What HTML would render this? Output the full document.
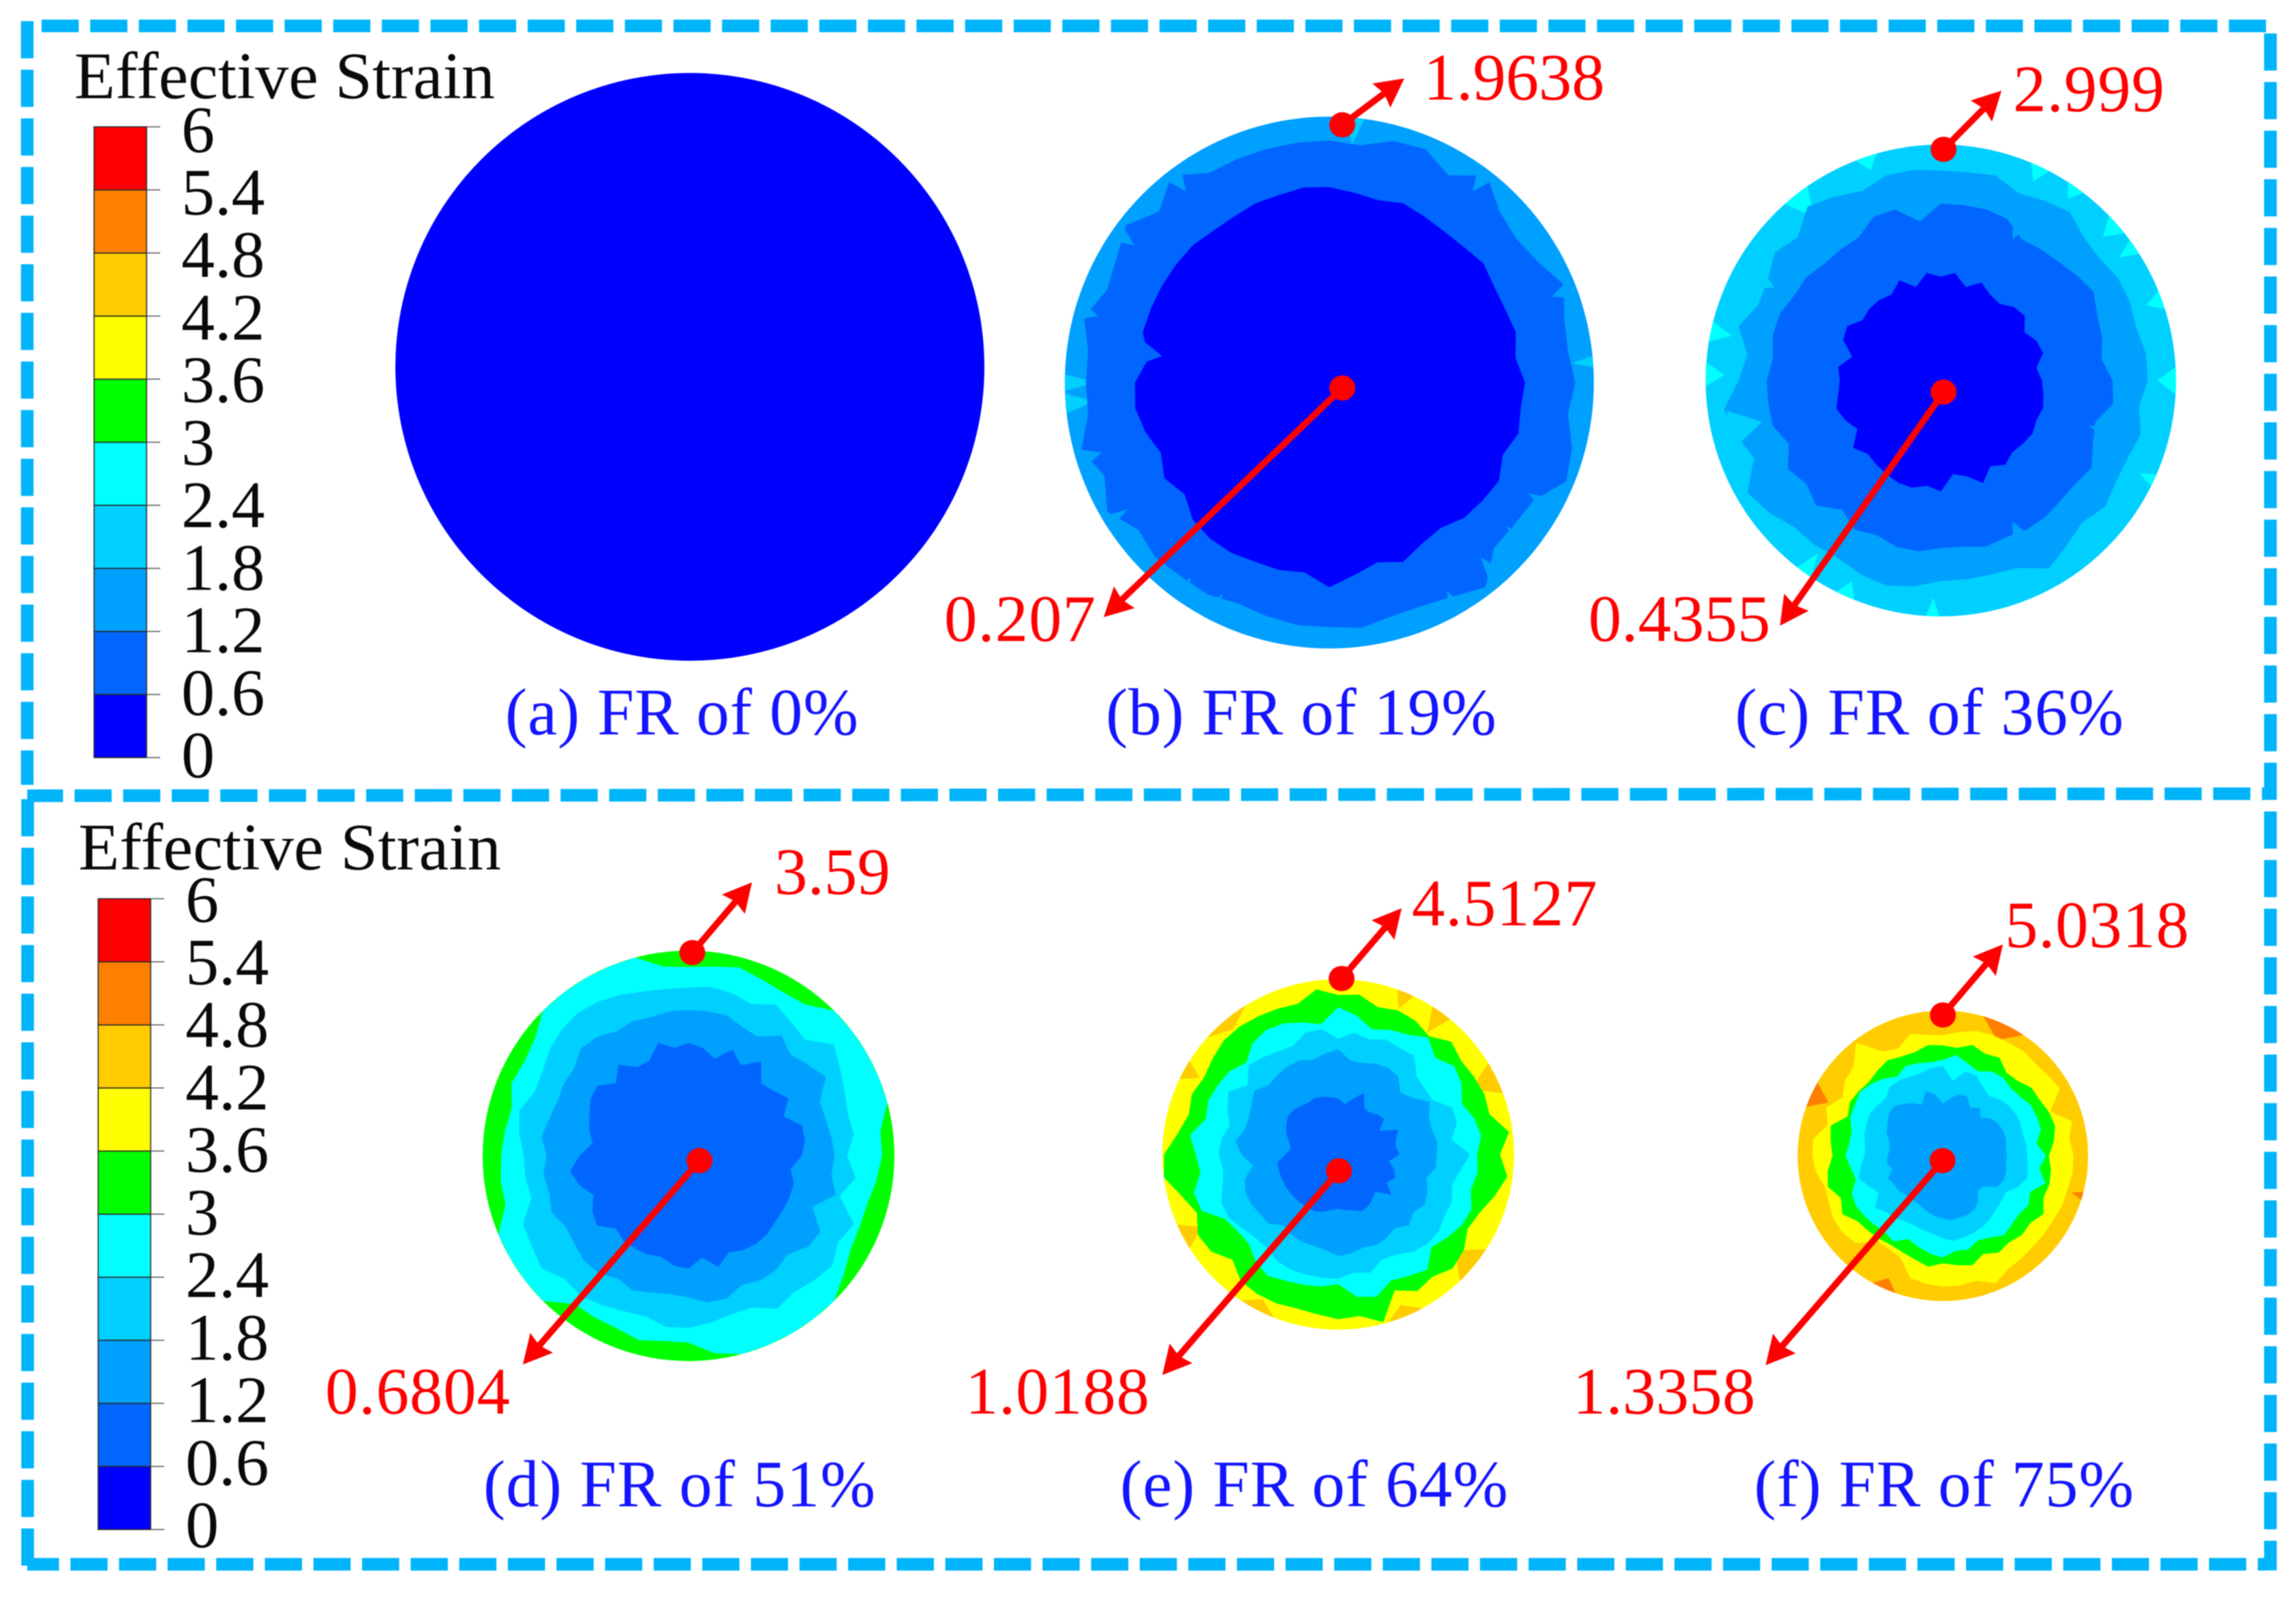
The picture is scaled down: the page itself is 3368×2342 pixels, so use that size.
<!DOCTYPE html>
<html lang="en">
<head>
<meta charset="utf-8">
<title>Effective strain contours by fraction reduction</title>
<style>
html,body{margin:0;padding:0;background:#fff;}
svg{display:block;filter:blur(0.7px);}
text{font-family:"Liberation Serif","Times New Roman",serif;}
.blk{fill:#0a0a0a;font-size:97px;}
.cap{fill:#1414ff;font-size:97px;}
</style>
</head>
<body>
<svg id="figure" xmlns="http://www.w3.org/2000/svg" width="3368" height="2342" viewBox="0 0 3368 2342">
  <rect x="0" y="0" width="3368" height="2342" fill="#ffffff"/>
  <g id="borders" fill="none" stroke="#00b4fa" stroke-width="18.5" stroke-dasharray="54.5 16.8">
    <line x1="3324" y1="38" x2="60" y2="38"/>
    <line x1="40" y1="31" x2="40" y2="1151"/>
    <line x1="3330.5" y1="49" x2="3330.5" y2="1173"/>
    <line x1="3301" y1="1164" x2="40" y2="1167"/>
    <line x1="40.5" y1="1172" x2="40.5" y2="2303"/>
    <line x1="3330.5" y1="1190" x2="3330.5" y2="2303"/>
    <line x1="3295" y1="2294" x2="40" y2="2294"/>
    <line x1="3318" y1="1164" x2="3324" y2="1164"/>
    <line x1="3312" y1="2294" x2="3324" y2="2294"/>
  </g>
  <g id="colorbars"></g>
  <g id="discs"></g>
  <g id="callouts"></g>
  <text class="blk" x="109" y="144" textLength="617" lengthAdjust="spacingAndGlyphs">Effective Strain</text>
  <text class="blk" x="115" y="1275" textLength="620" lengthAdjust="spacingAndGlyphs">Effective Strain</text>
  <text class="cap" x="741" y="1077" textLength="518">(a) FR of 0%</text>
  <text class="cap" x="1622" y="1077" textLength="573">(b) FR of 19%</text>
  <text class="cap" x="2545" y="1077" textLength="570">(c) FR of 36%</text>
  <text class="cap" x="709" y="2209" textLength="575">(d) FR of 51%</text>
  <text class="cap" x="1643" y="2209" textLength="569">(e) FR of 64%</text>
  <text class="cap" x="2573" y="2209" textLength="557">(f) FR of 75%</text>
</svg>
<script>
/* colour scale */
const strainLevels = [0, 0.6, 1.2, 1.8, 2.4, 3, 3.6, 4.2, 4.8, 5.4, 6];
const tickLabels = ["0", "0.6", "1.2", "1.8", "2.4", "3", "3.6", "4.2", "4.8", "5.4", "6"];
const bandPalette = ["#0000ff", "#0066ff", "#00a0ff", "#00d0ff", "#00ffff", "#00ff00", "#ffff00", "#ffcc00", "#ff8000", "#ff0000"];

/* printed extreme values, one per section (a has no callouts) */
const maxStrainLabels = [null, "1.9638", "2.999", "3.59", "4.5127", "5.0318"];
const minStrainLabels = [null, "0.207", "0.4355", "0.6804", "1.0188", "1.3358"];

/* Contour radius as % of disc radius, sampled every 7.5 deg clockwise from the top */
const ringB12 = [91,90,94,95,90,98,91,89,91,96,92,91,93,91,95,97,89,88,88,97,93,91,91,93,92,92,91,90,92,92,93,91,97,92,97,92,92,92,96,91,93,97,91,98,91,91,91,91];
const ringB06 = [73.5,72,71,73,72,71.5,72,73.5,72,72,73,71,74,73,74,71,74,73,72,69,70,73,70,73,77,72,73,73,74,74,73,69,72,69,72,74,73.5,69,73,73,73,73,73,72,72,73,73,74];

const ringC18 = [89,89,90,86,88,90,86,85,87,87,86,88,88,85,88,86,86,88,85,88,92,86,85,85,85,88,90,89,87,88,88,92,95,86,90,93,86,83,89,84,85,89,86,93,90,87,90,90];
const ringC12 = [75,75,75,74,69,70,71,73,75,72,71,69,73,74,68,70,74,72,72,73,73,72,73,71,71,73,73,71,73,69,75,72,75,70,74,74,74,72,74,74,72,72,70,70,70,75,75,68];
const ringC06 = [44,46,41,45,42,41,44,45,41,44,45,41,43,44,45,44,45,44,43,45,42,47,42,40,47,45,47,47,46,45,44,47,41,44,46,44,43,44,39,45,46,42,43,43,42,46,41,46];

const ringD30 = [92,93,95,93,92,93,100,100,100,100,100,94,94,92,90,90,91,95,100,100,100,100,100,97,91,91,93,91,91,91,100,100,100,100,92,92,91,90,89,93,92,94,100,100,100,100,100,93];
const ringD24 = [82,83,82,80,85,82,80,89,85,82,80,81,77,82,76,87,84,88,86,84,86,80,80,82,84,84,81,82,84,86,85,90,88,87,79,80,80,83,85,81,82,85,87,88,87,85,83,82];
const ringD18 = [71,71,71,68,67,74,70,73,77,69,69,70,71,70,74,65,74,73,68,70,70,68,72,72,69,68,69,71,69,72,72,70,69,72,70,71,69,72,70,69,70,70,74,73,70,71,70,71];
const ringD12 = [55,53,49,56,51,58,50,52,56,50,57,57,55,50,53,53,53,53,54,54,53,51,56,50,55,54,51,52,52,52,50,56,54,50,55,58,53,47,50,52,55,56,50,56,50,50,57,53];

const ringE36 = [91,92,87,89,88,85,91,88,89,90,89,98,92,97,92,87,85,90,92,88,90,84,99,93,94,92,91,92,92,91,85,91,92,87,92,100,99,92,88,90,88,90,92,92,91,90,89,95];
const ringE30 = [84,80,74,77,79,84,78,83,81,76,80,82,79,80,78,82,81,78,75,83,80,78,84,82,74,76,77,78,80,77,72,72,74,84,85,79,81,85,78,80,79,78,74,80,82,81,78,75];
const ringE24 = [66,70,68,71,70,71,63,62,62,70,70,65,75,70,67,70,70,72,72,70,66,65,70,68,71,71,71,71,70,67,67,69,72,72,68,66,68,67,64,68,72,65,72,70,68,67,72,72];
const ringE18 = [60,54,54,56,57,56,50,53,60,56,55,57,56,56,52,55,57,54,57,53,55,56,55,57,58,55,54,54,53,51,56,56,57,57,55,49,55,59,55,55,57,60,56,57,58,58,56,58];
const ringE12 = [32,29,33,38,30,30,32,33,27,37,34,33,35,29,33,35,32,38,30,32,34,35,33,32,31,32,34,35,35,35,35,35,35,35,35,35,30,27,29,32,34,36,36,35,34,35,34,33];

const ringF42 = [83,86,89,90,90,91,90,91,93,80,92,88,90,90,89,89,88,88,88,89,90,95,89,90,90,89,87,76,74,74,85,87,87,85,84,88,90,90,82,87,80,85,87,98,83,80,87,84];
const ringF36 = [76,75,79,76,78,72,73,77,77,79,80,77,73,75,76,75,80,76,77,75,77,73,78,76,74,77,74,72,71,72,73,74,80,76,82,80,76,78,80,71,74,73,72,74,76,74,74,77];
const ringF30 = [66,70,66,63,67,68,66,67,70,70,70,65,71,67,73,65,68,66,67,69,65,63,67,66,70,68,65,62,68,66,67,68,69,68,62,64,67,65,65,69,70,72,70,67,63,67,66,65];
const ringF24 = [62,52,60,60,55,52,55,57,58,58,57,58,58,59,60,56,50,51,52,54,56,57,58,59,57,54,53,52,52,54,55,59,51,55,60,57,54,54,56,57,58,57,56,60,60,59,59,61];
const ringF18 = [36,40,44,44,38,42,37,42,44,45,45,44,44,44,45,45,43,35,34,40,43,44,44,45,43,42,40,38,37,37,37,39,39,41,36,39,38,37,38,42,44,47,48,45,42,38,46,43];

/* Small rim facets under the contours: start angle, end angle, inner radius %, band index */
const facetsB = [[3,8,90,3],[263,268,89,3],[268,272,88,3],[84,87,92,3],[35,39,92,3]];
const facetsC = [[338,345,94,4],[22,28,93,4],[32,38,94,4],[45,52,92,4],[53,58,92,4],[67,73,93,4],[86,94,92,4],[113,117,93,4],[201,207,93,4],[213,218,90,4],[180,184,92,4],[279,285,91,4],[268,275,92,4],[318,326,88,4]];
const facetsE = [[32,40,86,7],[19,26,90,7],[58,70,84,7],[122,137,86,7],[150,165,93,7],[237,247,88,7],[200,215,93,7],[310,330,93,7],[295,303,90,7]];
const facetsF = [[15,35,88,8],[289,301,87,8],[198,210,92,8],[104,108,92,8]];

/* Narrow spikes over the contours: start angle, end angle, tip radius %, band index, base radius % */
const spikesB = [[116,122,86,2,102],[126,132,86,2,102],[136,142,87,2,102],[148,153,90,2,102],[205,209,89,2,102],[213,218,90,2,102],[236,240,90,2,102],[250,256,90,2,102],[283,289,91,2,102],[302,308,90,2,102],[320,326,90,2,102],[34,40,90,2,102],[66,72,90,2,102],[274,284,64,1,76]];
const spikesC = [[104,110,66,2,76],[150,156,67,2,76],[24,30,67,2,76],[252,262,78,3,92],[296,302,81,3,90]];

const SVGNS = "http://www.w3.org/2000/svg";

function el(parent, tag, attrs, txt) {
  const n = document.createElementNS(SVGNS, tag);
  for (const k in attrs) n.setAttribute(k, attrs[k]);
  if (txt !== undefined) n.textContent = txt;
  parent.appendChild(n);
  return n;
}

/* ---------- colour bars ---------- */
function drawColorbar(cfg) {
  const parent = document.getElementById("colorbars");
  const maxLevel = strainLevels[strainLevels.length - 1];
  const yScale = v => cfg.top + (maxLevel - v) / maxLevel * cfg.height;

  const bar = el(parent, "g", {});
  
  

  for (let i = 0; i < strainLevels.length - 1; i++) {
    const r = el(bar, "rect", {
      x: cfg.left, width: cfg.right - cfg.left,
      y: yScale(strainLevels[i + 1]),
      height: yScale(strainLevels[i]) - yScale(strainLevels[i + 1]),
      fill: bandPalette[i], stroke: "#2b2b2b", "stroke-width": 1.6
    });
    
    
  }
  strainLevels.forEach((v, i) => {
    const t = el(bar, "line", {
      x1: cfg.right, x2: cfg.tickEnd, y1: yScale(v), y2: yScale(v),
      stroke: "#555555", "stroke-width": 1.6
    });
    
    
    const l = el(bar, "text", {
      x: cfg.labelX, y: yScale(v) + cfg.labelOffset + v * 1.3,
      fill: "#0a0a0a", "font-size": 98
    }, tickLabels[i]);
    
    
  });
}

/* ---------- contour discs ---------- */
function bandIndexBelow(level) {
  return strainLevels.indexOf(level) - 1;
}

function drawDisc(cfg, idx) {
  const parent = document.getElementById("discs");
  const g = el(parent, "g", {});
  
  

  const xAt = (deg, pct) => cfg.cx + cfg.rx * pct / 100 * Math.sin(deg * Math.PI / 180);
  const yAt = (deg, pct) => cfg.cy - cfg.ry * pct / 100 * Math.cos(deg * Math.PI / 180);
  const ptsOf = list => list.map(p => xAt(p[0], p[1]).toFixed(1) + "," + yAt(p[0], p[1]).toFixed(1)).join(" ");

  const clip = el(g, "clipPath", { id: "clip-" + idx });
  el(clip, "ellipse", { cx: cfg.cx, cy: cfg.cy, rx: cfg.rx, ry: cfg.ry });

  const base = el(g, "ellipse", {
    cx: cfg.cx, cy: cfg.cy, rx: cfg.rx, ry: cfg.ry,
    fill: bandPalette[bandIndexBelow(cfg.baseLevel)]
  });
  
  

  const inner = el(g, "g", { "clip-path": "url(#clip-" + idx + ")" });

  (cfg.facets || []).forEach(f => {
    const mid = (f[0] + f[1]) / 2;
    const tri = el(inner, "polygon", {
      points: ptsOf([[f[0], 102], [f[1], 102], [mid, f[2]]]),
      fill: bandPalette[f[3]]
    });
    
    
  });

  cfg.rings.forEach(ring => {
    const n = ring.profile.length;
    const poly = el(inner, "polygon", {
      points: ptsOf(ring.profile.map((pct, i) => [i * 360 / n, pct])),
      fill: bandPalette[bandIndexBelow(ring.level)]
    });
    
    
  });

  (cfg.spikes || []).forEach(s => {
    const mid = (s[0] + s[1]) / 2;
    const tri = el(inner, "polygon", {
      points: ptsOf([[s[0], s[4]], [s[1], s[4]], [mid, s[2]]]),
      fill: bandPalette[s[3]]
    });
    
    
  });
}

/* ---------- callouts ---------- */
function drawArrow(parent, x0, y0, x1, y1) {
  const len = Math.hypot(x1 - x0, y1 - y0);
  const ux = (x1 - x0) / len, uy = (y1 - y0) / len;
  const headLen = 42, halfW = 22, notch = 5;
  const bx = x1 - ux * headLen, by = y1 - uy * headLen;
  el(parent, "line", {
    x1: x0, y1: y0, x2: bx + ux * notch, y2: by + uy * notch,
    stroke: "#ff0000", "stroke-width": 9.5
  });
  el(parent, "polygon", {
    fill: "#ff0000",
    points: [
      [x1, y1],
      [bx - uy * halfW, by + ux * halfW],
      [bx + ux * notch, by + uy * notch],
      [bx + uy * halfW, by - ux * halfW]
    ].map(p => p[0].toFixed(1) + "," + p[1].toFixed(1)).join(" ")
  });
}

function drawCallout(cfg, printed, name) {
  const parent = document.getElementById("callouts");
  const g = el(parent, "g", {});
  
  
  drawArrow(g, cfg.dot[0], cfg.dot[1], cfg.tip[0], cfg.tip[1]);
  el(g, "ellipse", { cx: cfg.dot[0], cy: cfg.dot[1], rx: 19, ry: 18.5, fill: "#ff0000" });
  const t = el(g, "text", {
    x: cfg.textX, y: cfg.textY, fill: "#ff0000", "font-size": 97,
    textLength: cfg.textW
  }, printed);
  
  
}

/* ---------- build ---------- */
drawColorbar({ name: "top-colorbar", left: 138, right: 215, tickEnd: 235, top: 186, height: 925, labelX: 266, labelOffset: 29 });
drawColorbar({ name: "bottom-colorbar", left: 144, right: 221, tickEnd: 241, top: 1318, height: 925, labelX: 272, labelOffset: 26 });

const discLayouts = [
  { name: "disc-a", cx: 1012, cy: 538, rx: 432, ry: 431, baseLevel: 0.6, rings: [] },
  { name: "disc-b", cx: 1950, cy: 561, rx: 388, ry: 390, baseLevel: 1.8, facets: facetsB, spikes: spikesB,
    rings: [{ level: 1.2, profile: ringB12 }, { level: 0.6, profile: ringB06 }] },
  { name: "disc-c", cx: 2847, cy: 558, rx: 345, ry: 346, baseLevel: 2.4, facets: facetsC, spikes: spikesC,
    rings: [{ level: 1.8, profile: ringC18 }, { level: 1.2, profile: ringC12 }, { level: 0.6, profile: ringC06 }] },
  { name: "disc-d", cx: 1010, cy: 1695, rx: 302, ry: 301, baseLevel: 3.6,
    rings: [{ level: 3, profile: ringD30 }, { level: 2.4, profile: ringD24 }, { level: 1.8, profile: ringD18 }, { level: 1.2, profile: ringD12 }] },
  { name: "disc-e", cx: 1963, cy: 1693, rx: 258, ry: 257, baseLevel: 4.2, facets: facetsE,
    rings: [{ level: 3.6, profile: ringE36 }, { level: 3, profile: ringE30 }, { level: 2.4, profile: ringE24 }, { level: 1.8, profile: ringE18 }, { level: 1.2, profile: ringE12 }] },
  { name: "disc-f", cx: 2850, cy: 1695, rx: 213, ry: 213, baseLevel: 4.8, facets: facetsF,
    rings: [{ level: 4.2, profile: ringF42 }, { level: 3.6, profile: ringF36 }, { level: 3, profile: ringF30 }, { level: 2.4, profile: ringF24 }, { level: 1.8, profile: ringF18 }] }
];
discLayouts.forEach(drawDisc);

const maxCallouts = [
  null,
  { dot: [1969, 183], tip: [2060, 115], textX: 2088, textY: 146, textW: 266 },
  { dot: [2851, 219], tip: [2936, 133], textX: 2953, textY: 163, textW: 222 },
  { dot: [1015.5, 1397], tip: [1103, 1294], textX: 1136, textY: 1311, textW: 170 },
  { dot: [1968, 1435], tip: [2056, 1332], textX: 2071, textY: 1357, textW: 272 },
  { dot: [2850, 1488.5], tip: [2938, 1385], textX: 2941, textY: 1389, textW: 270 }
];
const minCallouts = [
  null,
  { dot: [1969, 569], tip: [1619, 905], textX: 1385, textY: 940, textW: 222 },
  { dot: [2851, 575], tip: [2611, 917.6], textX: 2330, textY: 940, textW: 267 },
  { dot: [1026, 1702], tip: [767, 2001], textX: 477, textY: 2073, textW: 271 },
  { dot: [1964, 1717], tip: [1705, 2016.5], textX: 1416, textY: 2073, textW: 270 },
  { dot: [2849.5, 1702], tip: [2590, 2002], textX: 2307, textY: 2073, textW: 268 }
];
maxStrainLabels.forEach((label, i) => {
  if (label === null) return;
  drawCallout(maxCallouts[i], label, "max-strain-callout-" + "abcdef"[i]);
  drawCallout(minCallouts[i], minStrainLabels[i], "min-strain-callout-" + "abcdef"[i]);
});
</script>
</body>
</html>
